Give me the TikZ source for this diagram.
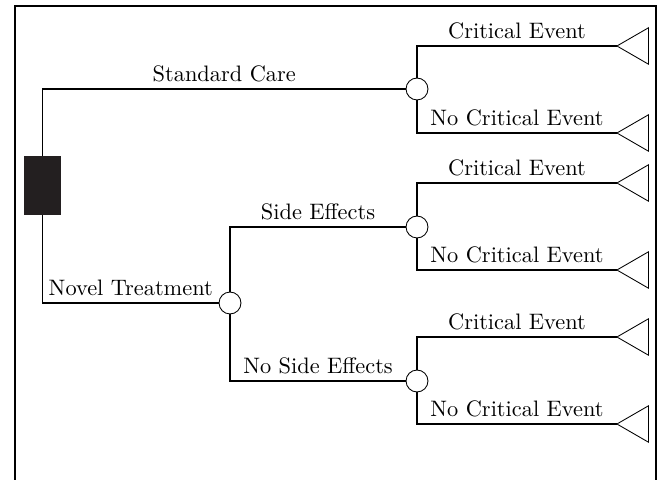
\documentclass[tikz,border=0pt]{standalone}
\usetikzlibrary{shapes.geometric}
\definecolor{decfill}{RGB}{35,31,32}
\begin{document}
\begin{tikzpicture}[x=0.465pt,y=-0.465pt,
  decision/.style={rectangle,fill=decfill,draw=none,minimum width=17.2pt,minimum height=27.4pt,inner sep=0pt,outer sep=0pt},
  chance/.style={circle,draw,fill=white,minimum size=10.2pt,inner sep=0pt,outer sep=0pt},
  term/.style={regular polygon,regular polygon sides=3,rotate=90,draw,minimum size=19.6pt,inner sep=0pt,outer sep=0pt},
  branch/.style={draw,line width=0.5pt},
  lbl/.style={anchor=base,yshift=3.7pt,inner sep=0pt,font=\fontsize{10.4pt}{12.5pt}\selectfont},
  frame/.style={line width=1pt}]
\useasboundingbox (0,0) rectangle (658,480);
\clip (0,0) rectangle (658,480);
\draw[frame] (15,500) |- (656,6) -- (656,500);
% nodes
\node[decision] (dec) at (42.5,185.5) {};
\node[chance] (c1) at (417,89) {};
\node[chance] (c2) at (230,303) {};
\node[chance] (c3) at (417,227) {};
\node[chance] (c4) at (417,381) {};
\node[term] (t1) at (638,46) {};
\node[term] (t2) at (638,133) {};
\node[term] (t3) at (638,183) {};
\node[term] (t4) at (638,270) {};
\node[term] (t5) at (638,337) {};
\node[term] (t6) at (638,424) {};
% branches
\draw[branch] (dec.north) |- node[lbl,pos=0.75] {Standard Care} (c1);
\draw[branch] (dec.south) |- node[lbl,pos=0.75] {Novel Treatment} (c2);
\draw[branch] (c2.north) |- node[lbl,pos=0.75] {Side Effects} (c3);
\draw[branch] (c2.south) |- node[lbl,pos=0.75] {No Side Effects} (c4);
\draw[branch] (c1.north) |- node[lbl,pos=0.75] {Critical Event} (t1.corner 1);
\draw[branch] (c1.south) |- node[lbl,pos=0.75] {No Critical Event} (t2.corner 1);
\draw[branch] (c3.north) |- node[lbl,pos=0.75] {Critical Event} (t3.corner 1);
\draw[branch] (c3.south) |- node[lbl,pos=0.75] {No Critical Event} (t4.corner 1);
\draw[branch] (c4.north) |- node[lbl,pos=0.75] {Critical Event} (t5.corner 1);
\draw[branch] (c4.south) |- node[lbl,pos=0.75] {No Critical Event} (t6.corner 1);
\end{tikzpicture}
\end{document}
